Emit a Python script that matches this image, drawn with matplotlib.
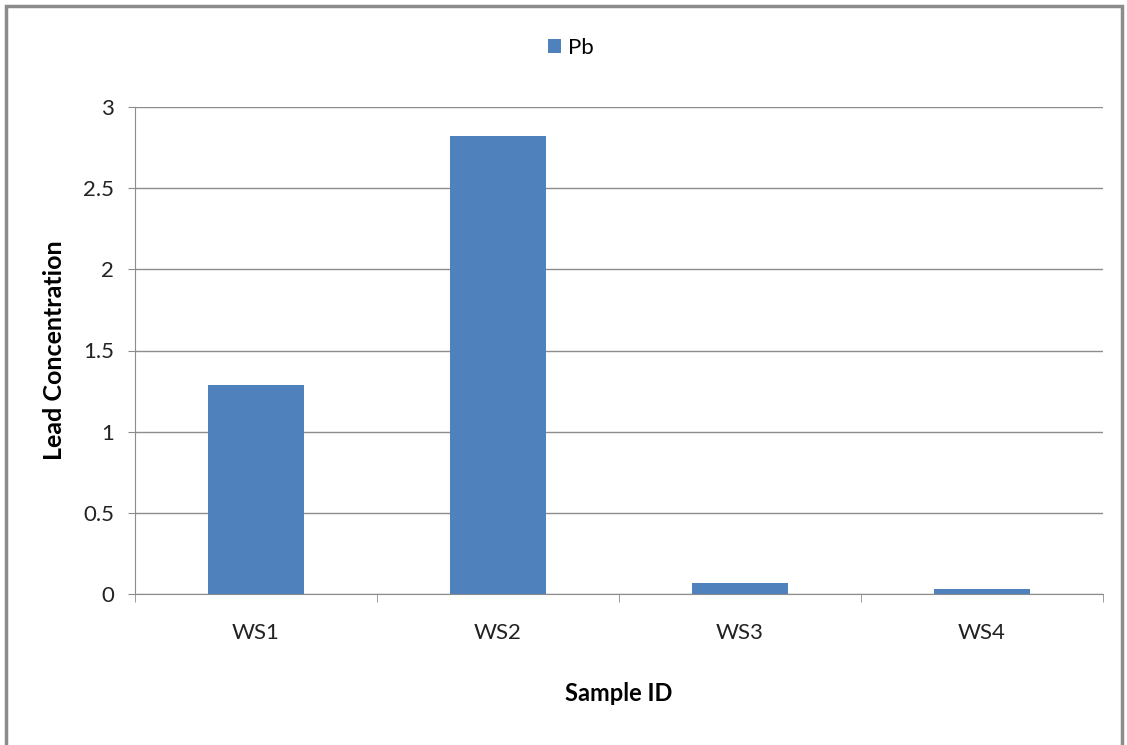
import matplotlib
matplotlib.use("Agg")
import matplotlib.pyplot as plt
from matplotlib.patches import Rectangle

# data
samples = ["WS1", "WS2", "WS3", "WS4"]
pb = [1.29, 2.82, 0.065, 0.03]

plt.rcParams['font.family'] = ['Lato', 'DejaVu Sans']

fig = plt.figure(figsize=(11.27, 7.45), dpi=100)
ax = fig.add_axes([135/1127, 1 - 594/745, (1103 - 135)/1127, (594 - 107)/745])

ax.bar(range(len(samples)), pb, width=0.4, color="#4F81BD", label="Pb", zorder=3)

ax.set_xlim(-0.5, len(samples) - 0.5)
ax.set_ylim(0, 3)
ax.set_yticks([0, 0.5, 1, 1.5, 2, 2.5, 3])
ax.set_yticklabels(["0", "0.5", "1", "1.5", "2", "2.5", "3"])
ax.set_xticks(range(len(samples)))
ax.set_xticklabels(samples)
ax.set_xticks([i - 0.5 for i in range(len(samples) + 1)], minor=True)

ax.grid(axis="y", color="#8c8c8c", linewidth=1, zorder=0)
for s in ["top", "right"]:
    ax.spines[s].set_visible(False)
for s in ["left", "bottom"]:
    ax.spines[s].set_color("#8c8c8c")

ax.tick_params(axis="x", which="major", length=0, pad=21, labelsize=16, colors="#222222")
ax.tick_params(axis="x", which="minor", length=6, color="#8c8c8c")
ax.tick_params(axis="y", length=5, color="#8c8c8c", pad=10, labelsize=16, labelcolor="#222222")

ax.set_xlabel("Sample ID", fontsize=17, fontweight="bold", labelpad=28)
ax.set_ylabel("Lead Concentration", fontsize=18, fontweight="bold", labelpad=12)

ax.legend(loc="center", bbox_to_anchor=(571/1127, 1 - 48/745), bbox_transform=fig.transFigure,
          frameon=False, fontsize=16, handlelength=0.6, handleheight=0.6, handletextpad=0.3)

# outer chart border
fig.patches.append(Rectangle((6/1127, -0.01), (1122 - 6)/1127, 1 - 6/745 + 0.01,
                             transform=fig.transFigure, fill=False,
                             edgecolor="#8c8c8c", linewidth=2.5))

fig.savefig("out.png", dpi=100)
